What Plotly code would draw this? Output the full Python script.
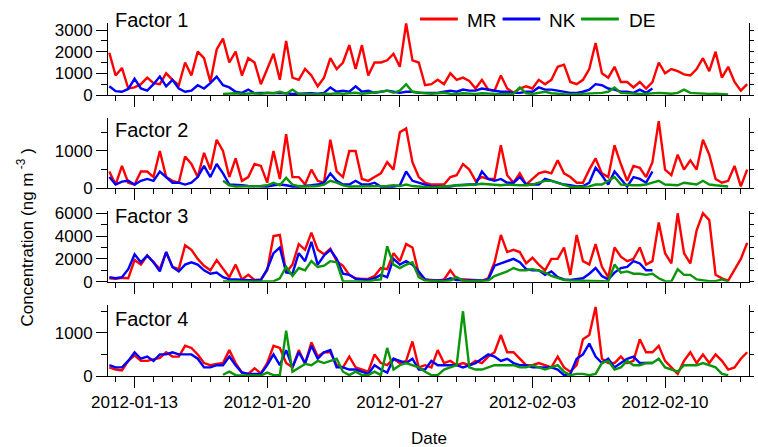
import pandas as pd
import plotly.graph_objects as go

# ---------------- data (8-hourly samples) ----------------
start_time = "2012-01-11 16:00"
n_mr = 102          # MR samples
n_nk = 87           # NK samples (from start)
de_first, de_last = 18, 99   # DE sample slice

f1_mr = [1950,900,1250,300,350,500,800,550,500,1000,
         700,450,1500,900,2000,1700,600,2100,2600,1500,
         2000,900,1700,1500,500,1200,1900,700,2500,800,
         700,1200,900,400,800,1700,1200,1500,2300,1200,
         2300,900,1500,1500,1600,1900,1300,3300,1600,1500,
         450,500,700,500,1000,700,800,650,300,700,
         250,200,900,300,100,300,400,300,700,500,
         700,1300,1400,600,500,700,1200,2400,1000,800,
         1300,600,600,350,600,300,600,1500,1000,1200,
         1100,950,900,1200,1700,1100,2000,800,1300,600,
         200,500]
f1_nk = [400,180,150,280,750,300,200,500,850,400,
         700,300,150,200,450,300,550,850,450,350,
         150,100,250,80,100,100,80,100,80,50,
         60,80,80,60,100,350,150,200,150,400,
         150,200,100,150,200,150,100,150,150,100,
         100,100,100,150,200,150,250,200,200,300,
         250,200,150,150,100,100,150,150,350,250,
         250,200,150,100,100,150,250,500,450,300,
         250,150,150,100,250,100,300]
f1_de = [50,60,80,50,60,80,50,100,80,150,
         60,250,50,40,50,40,60,50,80,60,
         80,100,60,80,100,150,200,100,200,500,
         150,100,80,60,80,100,60,50,80,60,
         50,80,60,50,40,50,60,350,80,50,
         100,150,80,50,40,30,40,50,60,80,
         100,150,350,100,80,60,50,60,80,100,
         80,60,100,250,100,80,60,50,60,40,
         30]

f2_mr = [450,100,600,150,100,450,450,300,1000,300,
         200,150,850,650,300,950,500,1300,1000,300,
         800,200,300,650,600,150,1000,250,1450,300,
         300,100,500,200,150,1300,450,300,1000,1000,
         250,200,300,400,700,500,1500,1600,700,300,
         150,100,100,100,300,350,650,500,200,300,
         250,250,1150,350,150,400,100,250,400,450,
         400,750,400,300,150,150,500,800,400,300,
         1150,650,200,600,550,300,700,1800,500,350,
         900,500,750,500,1300,900,250,150,200,600,
         50,500]
f2_nk = [300,100,180,200,100,200,250,200,450,300,
         150,150,100,150,300,600,300,650,400,100,
         100,80,60,50,50,50,80,100,80,50,
         50,60,80,100,150,400,200,100,100,200,
         100,100,150,50,50,50,80,450,200,150,
         80,50,50,50,50,80,100,100,100,450,
         250,200,250,150,150,300,100,100,100,250,
         200,150,100,80,50,60,150,550,350,100,
         450,250,50,300,250,150,450]
f2_de = [200,80,50,50,40,50,60,80,150,80,
         280,100,60,50,50,60,100,200,150,80,
         50,50,40,50,50,50,60,80,60,100,
         60,50,30,20,30,50,60,80,80,100,
         100,120,100,80,80,100,80,80,80,100,
         150,200,200,150,80,40,30,30,50,100,
         100,200,300,100,80,80,80,100,150,200,
         100,80,80,150,120,100,200,100,80,60,
         50]

f3_mr = [300,250,350,300,1900,1500,2300,1700,1100,2600,
         1300,1100,3200,2800,2000,1400,1000,1900,1100,400,
         1500,200,600,150,200,1000,4000,4100,800,1500,
         3300,2800,4300,2800,2400,2900,1800,1400,600,300,
         250,250,500,1200,1100,2500,1800,3300,3000,700,
         200,150,100,200,1000,250,200,150,150,100,
         300,1700,4100,2600,2800,2600,1600,2100,1500,1000,
         2000,2000,3000,600,4100,1800,1500,3300,1300,400,
         3000,2200,1800,2000,3000,1500,1800,5200,2500,1600,
         6000,2500,1600,4500,6000,5400,600,300,100,1000,
         2000,3400]
f3_nk = [400,300,400,1100,2400,1700,2300,1700,900,2600,
         1300,900,1500,1700,1500,1000,700,800,400,200,
         200,150,100,100,150,1100,2500,3000,800,700,
         2500,1800,3500,1500,2300,2800,2000,700,600,250,
         200,150,300,600,400,2000,1500,1800,1500,900,
         200,100,100,100,300,150,100,100,100,100,
         200,1400,1600,1800,2000,1700,1100,1000,1000,600,
         900,400,200,150,200,300,700,1200,500,200,
         800,1200,1300,1800,1600,1000,1000]
f3_de = [20,20,20,20,20,20,20,20,30,300,
         1300,500,1200,1000,1800,1300,1400,1800,1700,20,
         20,20,20,20,150,200,3100,1500,1200,1500,
         1700,400,100,50,50,50,100,400,100,50,
         50,50,100,500,700,900,1200,1000,1000,1100,
         1000,800,500,300,150,100,100,50,50,50,
         50,20,1500,800,900,700,700,600,700,300,
         50,20,1100,600,600,200,100,50,50,200,
         20]

f4_mr = [200,150,130,350,480,350,350,380,420,550,
         450,450,700,650,500,300,250,280,300,600,
         300,80,50,180,60,300,700,650,300,200,
         600,280,780,450,550,550,250,200,450,200,
         150,100,500,300,250,400,300,350,800,200,
         250,200,600,300,350,250,300,250,350,300,
         450,550,950,550,550,400,250,250,300,250,
         200,450,200,100,250,850,950,1600,400,300,
         300,450,300,350,850,550,550,700,350,200,
         50,350,550,300,500,300,500,350,150,200,
         400,550]
f4_nk = [250,200,200,350,550,400,450,350,500,500,
         550,500,500,500,400,200,200,250,250,450,
         250,80,50,50,50,250,500,250,600,200,
         550,300,700,400,550,600,200,200,150,150,
         100,50,250,150,80,400,350,300,400,150,
         150,350,250,250,250,250,200,250,300,400,
         500,450,350,400,300,250,250,200,200,200,
         200,150,20,50,400,500,750,450,300,400,
         200,300,400,450,300,300,300]
f4_de = [30,100,20,10,10,10,10,80,20,20,
         1050,100,200,280,250,350,300,350,400,100,
         20,100,20,20,100,20,650,150,250,300,
         250,200,100,20,20,150,200,250,1500,200,
         150,150,200,250,250,250,250,200,200,250,
         200,150,200,250,100,20,50,50,20,50,
         300,350,150,200,350,250,250,300,300,400,
         200,150,100,250,250,250,300,250,200,50,
         20]

panel_titles = ["Factor 1", "Factor 2", "Factor 3", "Factor 4"]
y_tops = [3323, 1890, 6200, 1645]
y_major = [1000, 1000, 2000, 1000]
y_minor = [500, 500, 1000, 500]
series_names = ["MR", "NK", "DE"]
colors = ["#ff0000", "#0000ff", "#0a960a"]
x_range = ["2012-01-11 14:20", "2012-02-14 10:20"]
week_ticks_start = "2012-01-13"

# ---------------- figure ----------------
times = pd.date_range(start_time, periods=n_mr, freq="8h")
t_series = [times, times[:n_nk], times[de_first:de_last]]
data = [(f1_mr, f1_nk, f1_de), (f2_mr, f2_nk, f2_de),
        (f3_mr, f3_nk, f3_de), (f4_mr, f4_nk, f4_de)]

W, H = 758, 447
ML, MRG, MT, MB = 108, 5, 23, 71
PW, PH = W - ML - MRG, H - MT - MB


def px_x(x):
    return (x - ML) / PW


def px_y(y):
    return (H - MB - y) / PH


panel_px = [(23, 95), (117.7, 188.3), (211, 281.7), (305, 376)]
label_y = [20, 130, 216, 319]

FONT = "Liberation Sans, Arial, sans-serif"
fig = go.Figure()
DAY = 86400000

for p in range(4):
    ax = "" if p == 0 else str(p + 1)
    for s in range(3):
        fig.add_trace(go.Scatter(
            x=t_series[s], y=data[p][s], mode="lines", name=series_names[s],
            line=dict(color=colors[s], width=2.4), showlegend=False,
            xaxis="x" + ax, yaxis="y" + ax))
    # invisible trace for the right-hand axis
    fig.add_trace(go.Scatter(x=[times[0]], y=[None], mode="lines",
                             showlegend=False, hoverinfo="skip",
                             xaxis="x" + ax, yaxis="y" + str(p + 5)))
    top, bot = panel_px[p]
    dom = [px_y(bot), px_y(top)]
    fig.layout["xaxis" + ax] = dict(
        domain=[0, 1], anchor="y" + ax, range=x_range, type="date",
        showline=True, linecolor="black", linewidth=1,
        ticks="outside", ticklen=11, tickwidth=1, tickcolor="black",
        tick0=week_ticks_start, dtick=7 * DAY, tickformat="%Y-%m-%d",
        minor=dict(ticks="outside", ticklen=5, tickwidth=1, tickcolor="black",
                   tick0=week_ticks_start, dtick=DAY, showgrid=False),
        showgrid=False, zeroline=False, showticklabels=(p == 3),
        tickfont=dict(size=17, family=FONT, color="black"))
    fig.layout["yaxis" + ax] = dict(
        domain=dom, anchor="x" + ax, range=[0, y_tops[p]],
        showline=True, linecolor="black", linewidth=1,
        ticks="outside", ticklen=11, tickwidth=1, tickcolor="black",
        dtick=y_major[p], tick0=0, tickformat="d",
        minor=dict(ticks="outside", ticklen=6, tickwidth=1, tickcolor="black",
                   dtick=y_minor[p], tick0=0, showgrid=False),
        showgrid=False, zeroline=False,
        tickfont=dict(size=17, family=FONT, color="black"))
    fig.layout["yaxis" + str(p + 5)] = dict(
        overlaying="y" + ax, anchor="x" + ax, side="right", range=[0, y_tops[p]],
        showline=True, linecolor="black", linewidth=1,
        ticks="outside", ticklen=4, tickwidth=1, tickcolor="black",
        dtick=y_minor[p], tick0=0, showticklabels=False,
        showgrid=False, zeroline=False)
    fig.add_annotation(text=panel_titles[p], xref="paper", yref="paper",
                       x=px_x(113), y=px_y(label_y[p]), xanchor="left",
                       yanchor="middle", showarrow=False,
                       font=dict(size=20, family=FONT, color="black"))

# legend drawn as line samples + labels
leg_lines = [(422, 460), (505, 543), (584, 622)]
leg_text_x = [467, 550, 630]
for s in range(3):
    fig.add_shape(type="line", xref="paper", yref="paper",
                  x0=px_x(leg_lines[s][0]), x1=px_x(leg_lines[s][1]),
                  y0=px_y(19), y1=px_y(19),
                  line=dict(color=colors[s], width=2.8))
    fig.add_annotation(text=series_names[s], xref="paper", yref="paper",
                       x=px_x(leg_text_x[s]), y=px_y(21), xanchor="left",
                       yanchor="middle", showarrow=False,
                       font=dict(size=19, family=FONT, color="black"))

fig.add_annotation(text="Concentration (ng m<sup> -3</sup> )", xref="paper",
                   yref="paper", x=px_x(25), y=px_y(238), textangle=-90,
                   xanchor="center", yanchor="middle", showarrow=False,
                   font=dict(size=17, family=FONT, color="black"))
fig.add_annotation(text="Date", xref="paper", yref="paper",
                   x=px_x(430.5), y=px_y(438), xanchor="center",
                   yanchor="middle", showarrow=False,
                   font=dict(size=17, family=FONT, color="black"))

fig.update_layout(width=W, height=H,
                  margin=dict(l=ML, r=MRG, t=MT, b=MB, pad=0),
                  paper_bgcolor="white", plot_bgcolor="white",
                  showlegend=False, font=dict(family=FONT, color="black"))

fig.write_html("out.html")
